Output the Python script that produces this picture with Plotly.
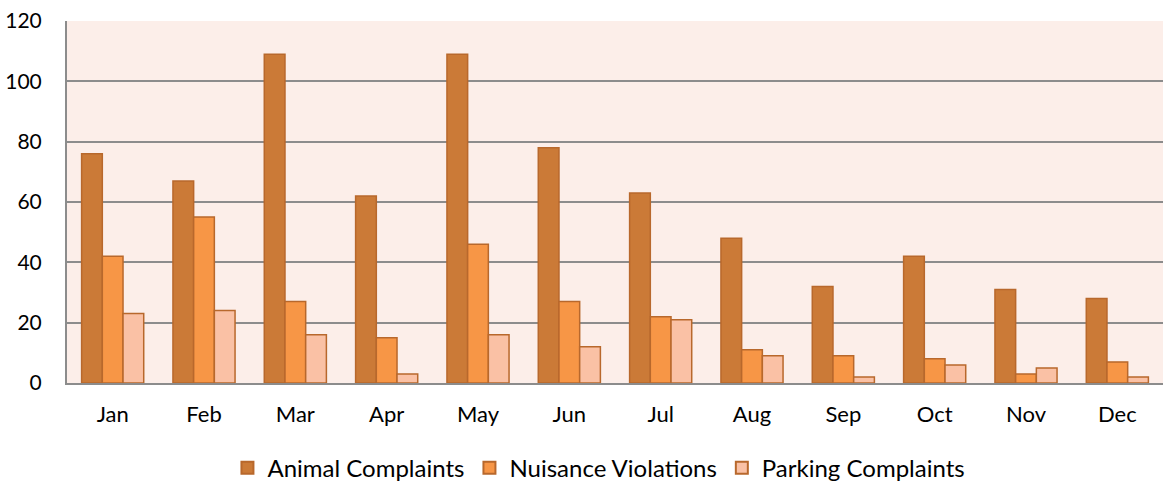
import plotly.graph_objects as go

months = ["Jan", "Feb", "Mar", "Apr", "May", "Jun", "Jul", "Aug", "Sep", "Oct", "Nov", "Dec"]
animal = [76, 67, 109, 62, 109, 78, 63, 48, 32, 42, 31, 28]
nuisance = [42, 55, 27, 15, 46, 27, 22, 11, 9, 8, 3, 7]
parking = [23, 24, 16, 3, 16, 12, 21, 9, 2, 6, 5, 2]
y_ticks = [0, 20, 40, 60, 80, 100, 120]

font_family = "Lato, Open Sans, sans-serif"

fig = go.Figure()
series = [
    ("Animal Complaints", animal, "#CB7A37"),
    ("Nuisance Violations", nuisance, "#F79646"),
    ("Parking Complaints", parking, "#FAC1A5"),
]
for name, vals, col in series:
    fig.add_trace(go.Bar(
        x=months, y=vals, name=name,
        marker=dict(color=col, line=dict(color="#B8682C", width=1.5)),
    ))

fig.update_layout(
    width=1163, height=485,
    margin=dict(l=67, r=0, t=21, b=102),
    paper_bgcolor="white",
    plot_bgcolor="#FCEEE9",
    barmode="group",
    bargap=0.32,
    bargroupgap=0,
    font=dict(family=font_family, size=22, color="black"),
    showlegend=True,
    legend=dict(
        orientation="h", xref="container", x=0.515, xanchor="center",
        yref="container", y=0.035, yanchor="middle",
        font=dict(size=24), itemsizing="constant", traceorder="normal",
        itemwidth=30,
    ),
    xaxis=dict(
        showline=True, linecolor="#8C8C8C", linewidth=2,
        tickfont=dict(size=22), ticklabelstandoff=11,
        showgrid=False, automargin=False,
    ),
    yaxis=dict(
        range=[0, 120], tickvals=y_ticks,
        showline=True, linecolor="#8C8C8C", linewidth=2,
        showgrid=True, gridcolor="#8C8C8C", gridwidth=1.5,
        tickfont=dict(size=21), ticklabelstandoff=19,
        zeroline=False, automargin=False,
    ),
)

fig.write_html(
    "out.html",
    config={"displayModeBar": False},
    post_script="document.body.style.margin='0';document.body.style.overflow='hidden';",
)
